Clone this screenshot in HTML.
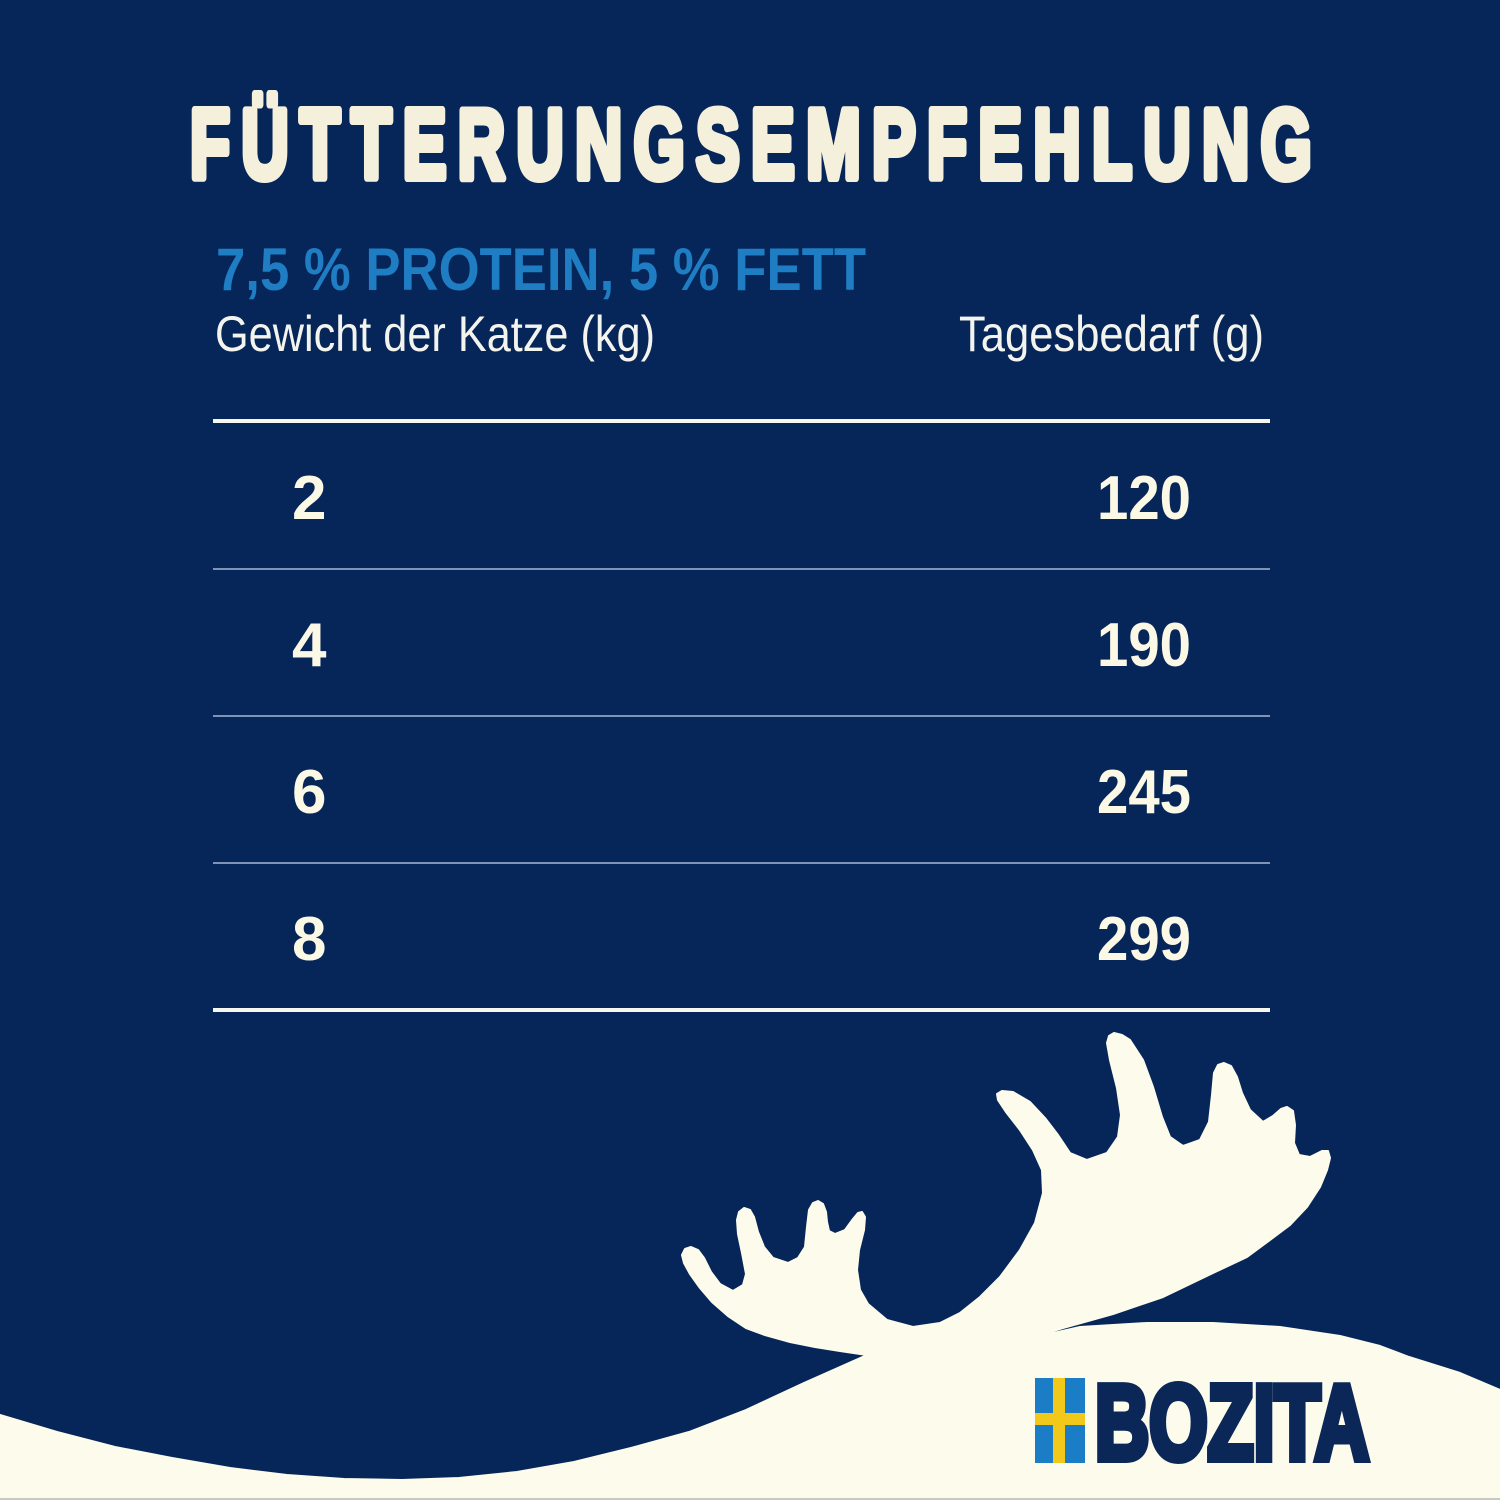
<!DOCTYPE html>
<html>
<head>
<meta charset="utf-8">
<style>
html,body{margin:0;padding:0;background:#062659;}
body{width:1500px;height:1500px;overflow:hidden;}
svg{display:block;}
</style>
</head>
<body>
<svg width="1500" height="1500" viewBox="0 0 1500 1500" xmlns="http://www.w3.org/2000/svg">
  <rect x="0" y="0" width="1500" height="1500" fill="#062659"/>

  <!-- Title -->
  <text x="190" y="178" font-family="Liberation Sans, Arial, sans-serif" font-weight="bold" font-size="98"
        letter-spacing="17" textLength="1133" lengthAdjust="spacingAndGlyphs"
        fill="#f4f0dc" stroke="#f4f0dc" stroke-width="8" stroke-linejoin="round">FÜTTERUNGSEMPFEHLUNG</text>

  <!-- Subtitle -->
  <text x="216" y="290" font-family="Liberation Sans, Arial, sans-serif" font-weight="bold" font-size="60"
        textLength="650" lengthAdjust="spacingAndGlyphs" fill="#1f7dc3">7,5 % PROTEIN, 5 % FETT</text>

  <!-- Headers -->
  <text x="215" y="351" font-family="Liberation Sans, Arial, sans-serif" font-size="50"
        textLength="440" lengthAdjust="spacingAndGlyphs" fill="#f4f4ee">Gewicht der Katze (kg)</text>
  <text x="959" y="351" font-family="Liberation Sans, Arial, sans-serif" font-size="50"
        textLength="305" lengthAdjust="spacingAndGlyphs" fill="#f4f4ee">Tagesbedarf (g)</text>

  <!-- Lines -->
  <rect x="213" y="419" width="1057" height="4" fill="#f7f7f2"/>
  <rect x="213" y="568" width="1057" height="2" fill="#7f93b6"/>
  <rect x="213" y="715" width="1057" height="2" fill="#7f93b6"/>
  <rect x="213" y="862" width="1057" height="2" fill="#7f93b6"/>
  <rect x="213" y="1008" width="1057" height="4" fill="#f7f7f2"/>

  <!-- Rows -->
  <g font-family="Liberation Sans, Arial, sans-serif" font-weight="bold" font-size="62" fill="#fbf8e6">
    <text x="292" y="519">2</text>
    <text x="292" y="666">4</text>
    <text x="292" y="813">6</text>
    <text x="292" y="960">8</text>
    <text x="1191" y="519" text-anchor="end" textLength="94" lengthAdjust="spacingAndGlyphs">120</text>
    <text x="1191" y="666" text-anchor="end" textLength="94" lengthAdjust="spacingAndGlyphs">190</text>
    <text x="1191" y="813" text-anchor="end" textLength="94" lengthAdjust="spacingAndGlyphs">245</text>
    <text x="1191" y="960" text-anchor="end" textLength="94" lengthAdjust="spacingAndGlyphs">299</text>
  </g>

  <!-- Hill + antlers -->
  <path fill="#fdfcec" stroke="#fdfcec" stroke-width="2" stroke-linejoin="round" d="
    M0,1415 L57,1432 L115,1447 L172,1458 L230,1468 L287,1475 L344,1479 L402,1480 L459,1478 L517,1472
    L574,1462 L631,1448 L689,1432 L746,1410 L804,1383 L867,1355
    L840,1351 L815,1347 L790,1342 L765,1335 L746,1328 L728,1316 L712,1302 L700,1288 L690,1274 L684,1263
    L682,1255 L685,1249 L691,1247 L698,1250 L704,1258 L711,1272 L720,1284 L733,1291 L743,1285 L746,1274
    L742,1253 L738,1234 L737,1220 L739,1212 L744,1208 L750,1210 L754,1217 L758,1232 L764,1247 L773,1258
    L788,1263 L798,1258 L805,1247 L807,1227 L809,1210 L813,1203 L818,1201 L823,1204 L826,1212 L827,1222
    L829,1231 L835,1234 L845,1230 L853,1219 L858,1213 L862,1212 L865,1217 L864,1230 L859,1250 L857,1270
    L860,1290 L868,1304 L887,1320 L913,1327 L940,1323 L960,1313
    L980,1297 L1000,1277 L1020,1250 L1035,1223 L1043,1193 L1042,1170 L1033,1150 L1020,1130 L1006,1112
    L998,1100 L997,1094 L1002,1091 L1013,1092 L1030,1102 L1045,1118 L1058,1135 L1070,1153 L1087,1160
    L1107,1153 L1118,1137 L1121,1115 L1117,1088 L1110,1060 L1107,1043 L1109,1036 L1114,1033 L1122,1035
    L1130,1040 L1143,1060 L1153,1087 L1162,1117 L1170,1137 L1183,1146 L1200,1140 L1209,1122 L1212,1095
    L1214,1073 L1218,1065 L1224,1063 L1231,1066 L1237,1077 L1242,1093 L1250,1110 L1263,1122 L1273,1116
    L1281,1109 L1287,1107 L1293,1111 L1295,1125 L1294,1143 L1299,1155 L1310,1157 L1322,1151 L1328,1151
    L1330,1158 L1327,1170 L1320,1187 L1307,1207 L1290,1225 L1270,1240 L1247,1257 L1213,1273 L1163,1297
    L1113,1314 L1063,1328 L1027,1339
    L1080,1327 L1147,1323 L1213,1323 L1280,1327 L1340,1336 L1380,1346 L1409,1357 L1460,1373 L1500,1390
    L1500,1500 L0,1500 Z"/>

  <!-- Flag -->
  <rect x="1035" y="1378" width="50" height="85" fill="#1a7dc6"/>
  <rect x="1053" y="1378" width="12" height="85" fill="#f2c81a"/>
  <rect x="1035" y="1413" width="50" height="12" fill="#f2c81a"/>

  <!-- BOZITA -->
  <text x="1095" y="1459" font-family="Liberation Sans, Arial, sans-serif" font-weight="bold" font-size="106"
        textLength="274" lengthAdjust="spacingAndGlyphs"
        fill="#0a2757" stroke="#0a2757" stroke-width="8" stroke-linejoin="miter">BOZITA</text>

  <!-- bottom border -->
  <rect x="0" y="1498" width="1500" height="2" fill="#c9c9c2"/>
</svg>
</body>
</html>
